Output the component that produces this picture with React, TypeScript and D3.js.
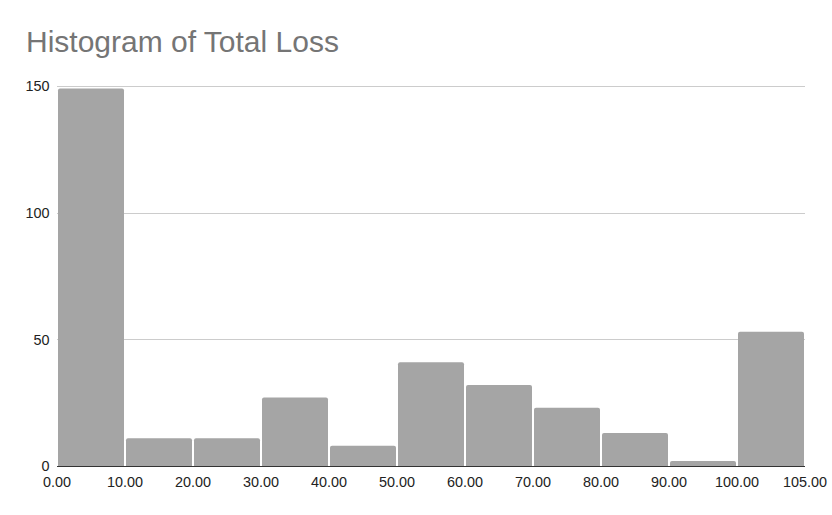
import React from 'react';
import * as d3 from 'd3';

const binLabels = ["0.00", "10.00", "20.00", "30.00", "40.00", "50.00", "60.00", "70.00", "80.00", "90.00", "100.00", "105.00"];
const counts = [149, 11, 11, 27, 8, 41, 32, 23, 13, 2, 53];
const yTicks = [0, 50, 100, 150];

const W = 832;
const H = 515;
const margin = { top: 86, right: 27, bottom: 49, left: 57 };

const barPath = (x0: number, x1: number, yTop: number, yBase: number, r: number) => {
  const rr = Math.min(r, (yBase - yTop) / 2, (x1 - x0) / 2);
  return `M${x0},${yBase}V${yTop + rr}Q${x0},${yTop} ${x0 + rr},${yTop}H${x1 - rr}Q${x1},${yTop} ${x1},${yTop + rr}V${yBase}Z`;
};

export default function App() {
  const x = d3.scaleLinear().domain([0, counts.length]).range([margin.left, W - margin.right]);
  const y = d3.scaleLinear().domain([0, 150]).range([H - margin.bottom, margin.top]);
  const font = "'Liberation Sans', Arial, sans-serif";

  return (
    <svg width={W} height={H} style={{ position: 'fixed', left: 0, top: 0, display: 'block', background: '#fff' }}>
      <text x={26} y={52} fontFamily={font} fontSize={30} fill="#757575">Histogram of Total Loss</text>

      {yTicks.filter(t => t > 0).map(t => (
        <line key={t} x1={x(0)} x2={x(counts.length)} y1={Math.round(y(t)) + 0.5} y2={Math.round(y(t)) + 0.5} stroke="#cccccc" strokeWidth={1} />
      ))}

      {counts.map((c, i) => (
        <path key={i} d={barPath(x(i) + 1, x(i + 1) - 1, y(c), y(0), 2)} fill="#a5a5a5" />
      ))}

      <line x1={x(0)} x2={x(counts.length)} y1={y(0) + 0.5} y2={y(0) + 0.5} stroke="#333333" strokeWidth={1} />

      {yTicks.map(t => (
        <text key={t} x={49.5} y={y(t)} dy="0.36em" textAnchor="end" fontFamily={font} fontSize={14.4} fill="#222222">{t}</text>
      ))}

      {binLabels.map((l, i) => (
        <text key={l} x={x(i)} y={y(0) + 21} textAnchor="middle" fontFamily={font} fontSize={14.4} fill="#222222">{l}</text>
      ))}
    </svg>
  );
}
